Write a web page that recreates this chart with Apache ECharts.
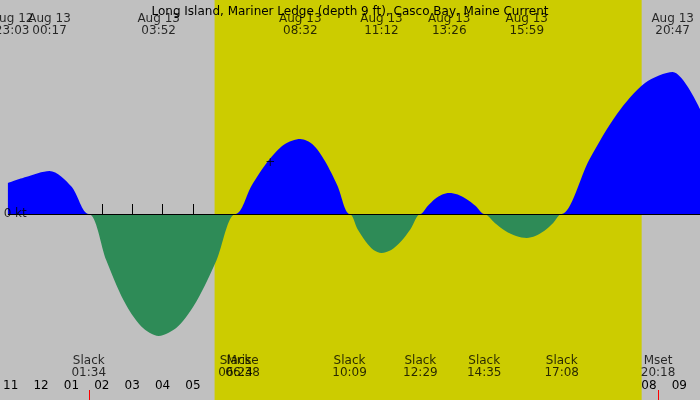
<!DOCTYPE html>
<html><head><meta charset="utf-8">
<script src="https://cdn.jsdelivr.net/npm/echarts@6/dist/echarts.min.js"></script>
<style>html,body{margin:0;padding:0;background:#c0c0c0}#c{width:700px;height:400px}</style>
</head><body><div id="c"></div>
<script>
// hours since midnight Aug 13, current in kt
const hours = [-1.09,-0.5,0.28,1.0,1.57,2.15,2.72,3.3,3.87,4.5,5.13,5.77,6.4,6.93,7.47,8.0,8.53,8.94,9.34,9.75,10.15,10.41,10.68,10.94,11.2,11.52,11.84,12.16,12.48,12.72,12.96,13.2,13.43,13.71,13.99,14.3,14.58,14.93,15.28,15.63,15.98,16.26,16.55,16.85,17.13,18.04,18.96,19.87,20.78,21.68];
const current = [0.62,0.74,0.86,0.55,0,-0.93,-1.73,-2.25,-2.44,-2.25,-1.73,-0.93,0,0.57,1.06,1.39,1.5,1.39,1.06,0.57,0,-0.3,-0.55,-0.72,-0.78,-0.72,-0.55,-0.3,0,0.16,0.3,0.39,0.42,0.39,0.3,0.16,0,-0.18,-0.34,-0.44,-0.48,-0.44,-0.34,-0.18,0,1.09,2.01,2.62,2.84,2.1];
const topTimes = [-0.95,0.28,3.87,8.53,11.2,13.43,15.98,20.78];
const topLabels = ['Aug 12\n23:03','Aug 13\n00:17','Aug 13\n03:52','Aug 13\n08:32','Aug 13\n11:12','Aug 13\n13:26','Aug 13\n15:59','Aug 13\n20:47'];
const botTimes = [1.57,6.4,6.63,10.15,12.48,14.58,17.13,20.3];
const botLabels = ['Slack\n01:34','Slack\n06:24','Mrise\n06:38','Slack\n10:09','Slack\n12:29','Slack\n14:35','Slack\n17:08','Mset\n20:18'];
const hourTicks = [-1,0,1,2,3,4,5,6,7,8,9,10,11,12,13,14,15,16,17,18,19,20,21];
const daylight = [5.71,19.76];
const title = 'Long Island, Mariner Ledge (depth 9 ft), Casco Bay, Maine Current';

const pos = hours.map((h,i)=>[h,Math.max(current[i],0)]);
const neg = hours.map((h,i)=>[h,Math.min(current[i],0)]);
const ff = 'DejaVu Sans, Liberation Sans, sans-serif';
const lab = (v)=>{let h=((v%12)+12)%12; if(h===0)h=12; return String(h).padStart(2,'0');};
const chart = echarts.init(document.getElementById('c'));
chart.setOption({
  backgroundColor:'#c0c0c0',
  animation:false,
  grid:{left:0,right:0,top:0,bottom:0},
  title:{text:title,left:'center',top:1,textStyle:{fontFamily:ff,fontSize:12,fontWeight:'normal',color:'#000'}},
  xAxis:[{type:'value',min:-1.09,max:21.68,axisLine:{show:false},splitLine:{show:false},
    axisTick:{inside:true,length:10,customValues:hourTicks,lineStyle:{color:'#000'}},
    axisLabel:{inside:true,margin:8,customValues:hourTicks,formatter:lab,fontFamily:ff,fontSize:12,color:'#000'}},
    {type:'value',min:-1.09,max:21.68,position:'bottom',axisLine:{show:false},splitLine:{show:false},
    axisTick:{inside:true,length:10,customValues:botTimes,lineStyle:{color:'#ff0000'}},axisLabel:{show:false}}],
  yAxis:{type:'value',min:-3.72,max:4.28,show:false},
  series:[
    {type:'line',data:pos,showSymbol:false,lineStyle:{width:0},areaStyle:{color:'#0000ff',opacity:1},smooth:0.3,
      markArea:{silent:true,itemStyle:{color:'#cccc00'},data:[[{xAxis:daylight[0]},{xAxis:daylight[1]}]]},z:2},
    {type:'line',data:neg,showSymbol:false,lineStyle:{width:0},areaStyle:{color:'#2e8b57',opacity:1},smooth:0.3,
      markLine:{silent:true,symbol:'none',label:{show:false},lineStyle:{color:'#000',width:1,type:'solid'},data:[{yAxis:0}]},z:2},
    {type:'scatter',symbolSize:0,z:5,data:topTimes.map((t,i)=>({value:[t,3.78],name:topLabels[i]})),
      label:{show:true,position:'inside',formatter:'{b}',fontFamily:ff,fontSize:12,lineHeight:12,color:'#000'}},
    {type:'scatter',symbolSize:0,z:5,data:botTimes.map((t,i)=>({value:[t,-3.06],name:botLabels[i]})),
      label:{show:true,position:'inside',formatter:'{b}',fontFamily:ff,fontSize:12,lineHeight:12,color:'#000'}},
    {type:'scatter',symbolSize:0,z:5,data:[{value:[-0.85,0],name:'0 kt'},{value:[7.54,1.02],name:'+'}],
      label:{show:true,position:'inside',formatter:'{b}',fontFamily:ff,fontSize:12,color:'#000'}}
  ]
});
</script></body></html>
